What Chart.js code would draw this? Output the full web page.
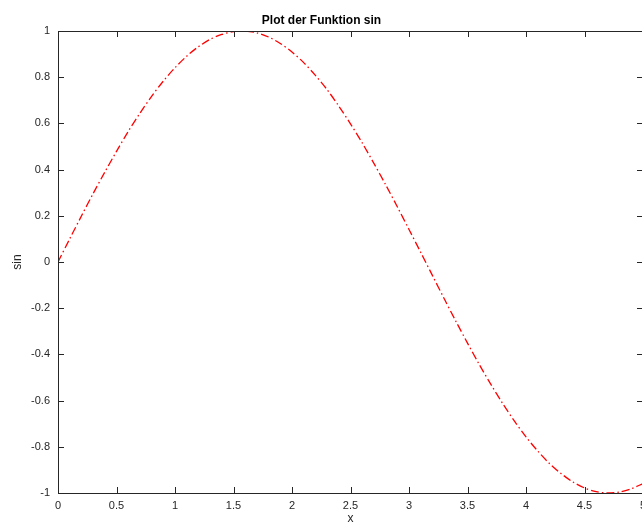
<!DOCTYPE html>
<html>
<head>
<meta charset="utf-8">
<script src="https://cdn.jsdelivr.net/npm/chart.js@4.4.1/dist/chart.umd.min.js"></script>
<style>
  html, body { margin: 0; padding: 0; background: #fff; overflow: hidden; }
  #wrap { width: 660px; height: 526px; }
</style>
</head>
<body>
<div id="wrap"><canvas id="myChart" width="660" height="526"></canvas></div>
<script>
// values
const xValues = [0, 0.1, 0.2, 0.3, 0.4, 0.5, 0.6, 0.7, 0.8, 0.9,
  1.0, 1.1, 1.2, 1.3, 1.4, 1.5, 1.6, 1.7, 1.8, 1.9,
  2.0, 2.1, 2.2, 2.3, 2.4, 2.5, 2.6, 2.7, 2.8, 2.9,
  3.0, 3.1, 3.2, 3.3, 3.4, 3.5, 3.6, 3.7, 3.8, 3.9,
  4.0, 4.1, 4.2, 4.3, 4.4, 4.5, 4.6, 4.7, 4.8, 4.9, 5.0]
const sinValues = [0, 0.100, 0.199, 0.296, 0.389, 0.479, 0.565, 0.644, 0.717, 0.783,
  0.841, 0.891, 0.932, 0.964, 0.985, 0.997, 1.000, 0.992, 0.974, 0.946,
  0.909, 0.863, 0.808, 0.746, 0.675, 0.598, 0.516, 0.427, 0.335, 0.239,
  0.141, 0.042, -0.058, -0.158, -0.256, -0.351, -0.443, -0.530, -0.612, -0.688,
  -0.757, -0.818, -0.872, -0.916, -0.952, -0.978, -0.994, -1.000, -0.996, -0.982, -0.959]
const xTicks = [0, 0.5, 1, 1.5, 2, 2.5, 3, 3.5, 4, 4.5, 5]
const yTicks = [-1, -0.8, -0.6, -0.4, -0.2, 0, 0.2, 0.4, 0.6, 0.8, 1]

const axisColor = "#262626"
const fontFamily = "'Liberation Sans', Arial, Helvetica, sans-serif"

// matlab style box with inward ticks on all four sides
const boxTicks = {
  id: "boxTicks",
  afterDraw(chart) {
    const {ctx, chartArea: a, scales} = chart
    const len = 6
    ctx.save()
    ctx.strokeStyle = axisColor
    ctx.lineWidth = 1
    ctx.beginPath()
    ctx.rect(a.left + 0.5, a.top + 0.5, a.right - a.left, a.bottom - a.top)
    for (const v of xTicks) {
      const px = Math.round(scales.x.getPixelForValue(v)) + 0.5
      ctx.moveTo(px, a.bottom); ctx.lineTo(px, a.bottom - len)
      ctx.moveTo(px, a.top); ctx.lineTo(px, a.top + len)
    }
    for (const v of yTicks) {
      const py = Math.round(scales.y.getPixelForValue(v)) + 0.5
      ctx.moveTo(a.left, py); ctx.lineTo(a.left + len, py)
      ctx.moveTo(a.right, py); ctx.lineTo(a.right - len, py)
    }
    ctx.stroke()
    ctx.restore()
  }
}

const dataChart = new Chart("myChart", {
  type: "line",
  data: {
    datasets: [{
      data: xValues.map((x, i) => ({x: x, y: sinValues[i]})),
      borderColor: "#ff0000",
      borderWidth: 1.3,
      borderDash: [8, 3, 1.5, 3],
      pointRadius: 0,
      tension: 0.3,
      fill: false
    }]
  },
  options: {
    responsive: false,
    animation: false,
    layout: {padding: {left: 0, right: 17, top: 0, bottom: 0}},
    plugins: {
      legend: {display: false},
      tooltip: {enabled: false},
      title: {
        display: true,
        text: "Plot der Funktion sin",
        color: "#000",
        font: {family: fontFamily, size: 12, weight: "bold"},
        padding: {top: 13, bottom: 3.6}
      }
    },
    scales: {
      x: {
        type: "linear",
        min: 0, max: 5,
        afterFit(scale) { scale.height = 33 },
        afterBuildTicks(scale) { scale.ticks = xTicks.map(v => ({value: v})) },
        grid: {display: false, drawTicks: false},
        border: {display: false},
        ticks: {
          color: axisColor, padding: 6, maxRotation: 0, autoSkip: false,
          font: {family: fontFamily, size: 11},
          callback: v => String(v)
        },
        title: {display: true, text: "x", color: axisColor, padding: {top: 0, bottom: 0},
          font: {family: fontFamily, size: 12}}
      },
      y: {
        type: "linear",
        min: -1, max: 1,
        afterFit(scale) { scale.width = 58 },
        afterBuildTicks(scale) { scale.ticks = yTicks.map(v => ({value: v})) },
        grid: {display: false, drawTicks: false},
        border: {display: false},
        ticks: {
          color: axisColor, padding: 8, autoSkip: false,
          font: {family: fontFamily, size: 11},
          callback: v => String(Number(v.toFixed(1)))
        },
        title: {display: true, text: "sin", color: axisColor, padding: {top: 10, bottom: 0},
          font: {family: fontFamily, size: 12}}
      }
    }
  },
  plugins: [boxTicks]
})
</script>
</body>
</html>
